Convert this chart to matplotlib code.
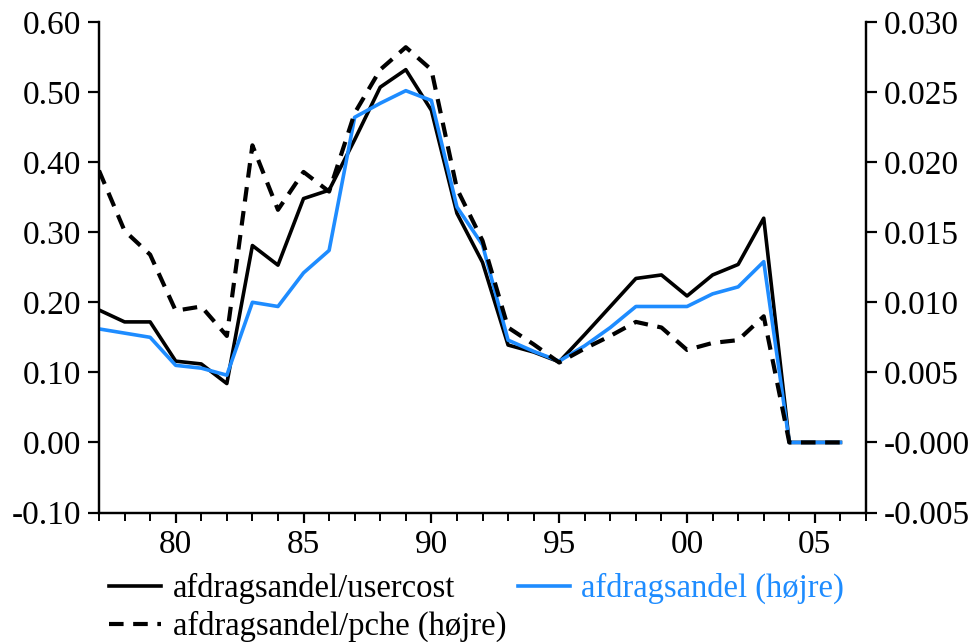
import matplotlib
matplotlib.use("Agg")
from matplotlib import pyplot as plt
from matplotlib.ticker import FixedLocator, MultipleLocator, FixedFormatter

plt.rcParams['font.family'] = ['Liberation Serif', 'DejaVu Serif']

years = list(range(1977, 2007))

# afdragsandel/usercost, venstre akse
usercost = [0.189, 0.172, 0.172, 0.116, 0.112, 0.084, 0.281, 0.253, 0.348, 0.360,
            0.432, 0.507, 0.532, 0.474, 0.327, 0.257, 0.139, 0.129, 0.115, 0.154,
            0.194, 0.234, 0.239, 0.209, 0.239, 0.254, 0.320, 0.0, 0.0, 0.0]

# afdragsandel, hoejre akse
afdrag = [0.0081, 0.0078, 0.0075, 0.0055, 0.0053, 0.0048, 0.0100, 0.0097, 0.0121, 0.0137,
          0.0232, 0.0242, 0.0251, 0.0244, 0.0168, 0.0141, 0.0073, 0.0065, 0.0058, 0.0069,
          0.0082, 0.0097, 0.0097, 0.0097, 0.0106, 0.0111, 0.0129, 0.0, 0.0, 0.0]

# afdragsandel/pche, hoejre akse
pche = [0.0194, 0.0151, 0.0134, 0.0094, 0.0097, 0.0076, 0.0212, 0.0166, 0.0193, 0.0179,
        0.0235, 0.0266, 0.0282, 0.0266, 0.0181, 0.0144, 0.0082, 0.0070, 0.0057, 0.0067,
        0.0076, 0.0086, 0.0082, 0.0066, 0.0071, 0.0073, 0.0090, 0.0, 0.0, 0.0]

x_ticks = [1980, 1985, 1990, 1995, 2000, 2005]
x_labels = ['80', '85', '90', '95', '00', '05']
left_ticks = [-0.10, 0.00, 0.10, 0.20, 0.30, 0.40, 0.50, 0.60]
left_labels = ['-0.10', '0.00', '0.10', '0.20', '0.30', '0.40', '0.50', '0.60']
right_ticks = [-0.005, 0.0, 0.005, 0.010, 0.015, 0.020, 0.025, 0.030]
right_labels = ['-0.005', '-0.000', '0.005', '0.010', '0.015', '0.020', '0.025', '0.030']

BLUE = '#1e8cff'
FS = 24

fig = plt.figure(figsize=(9.73, 6.42), dpi=100)
ax = fig.add_axes([99 / 973, 1 - 512.5 / 642, (866 - 99) / 973, (512.5 - 22) / 642])
ax2 = ax.twinx()

l1, = ax.plot(years, usercost, color='black', lw=2.6, label='afdragsandel/usercost')
l2, = ax2.plot(years, afdrag, color=BLUE, lw=2.6, label='afdragsandel (højre)')
l3, = ax2.plot(years, pche, color='black', lw=3, linestyle=(0, (3.5, 2.3)),
               label='afdragsandel/pche (højre)')

ax.set_xlim(1977, 2007)
ax.set_ylim(-0.10, 0.60)
ax2.set_ylim(-0.005, 0.030)

ax.xaxis.set_major_locator(FixedLocator(x_ticks))
ax.xaxis.set_major_formatter(FixedFormatter(x_labels))
ax.xaxis.set_minor_locator(MultipleLocator(1))
ax.yaxis.set_major_locator(FixedLocator(left_ticks))
ax.yaxis.set_major_formatter(FixedFormatter(left_labels))
ax2.yaxis.set_major_locator(FixedLocator(right_ticks))
ax2.yaxis.set_major_formatter(FixedFormatter(right_labels))

for a in (ax, ax2):
    a.spines['top'].set_visible(False)
    for s in a.spines.values():
        s.set_linewidth(1.6)
    a.tick_params(which='both', direction='out', width=1.6, labelsize=FS, pad=5)
ax.tick_params(axis='x', which='major', length=7)
ax.tick_params(axis='x', which='minor', length=6, width=1.4)
ax.tick_params(axis='y', length=8)
ax2.tick_params(axis='y', length=8)

leg = fig.legend([l1, l3, l2], [l1.get_label(), l3.get_label(), l2.get_label()],
                 ncol=2, frameon=False, fontsize=23.5,
                 loc='lower left', bbox_to_anchor=(96 / 973, -0.021),
                 handlelength=1.6, handletextpad=0.35, columnspacing=0.35,
                 labelspacing=0.22, borderaxespad=0)
for txt, line in zip(leg.get_texts(), [l1, l3, l2]):
    txt.set_color(line.get_color())

fig.savefig('out.png', dpi=100)
